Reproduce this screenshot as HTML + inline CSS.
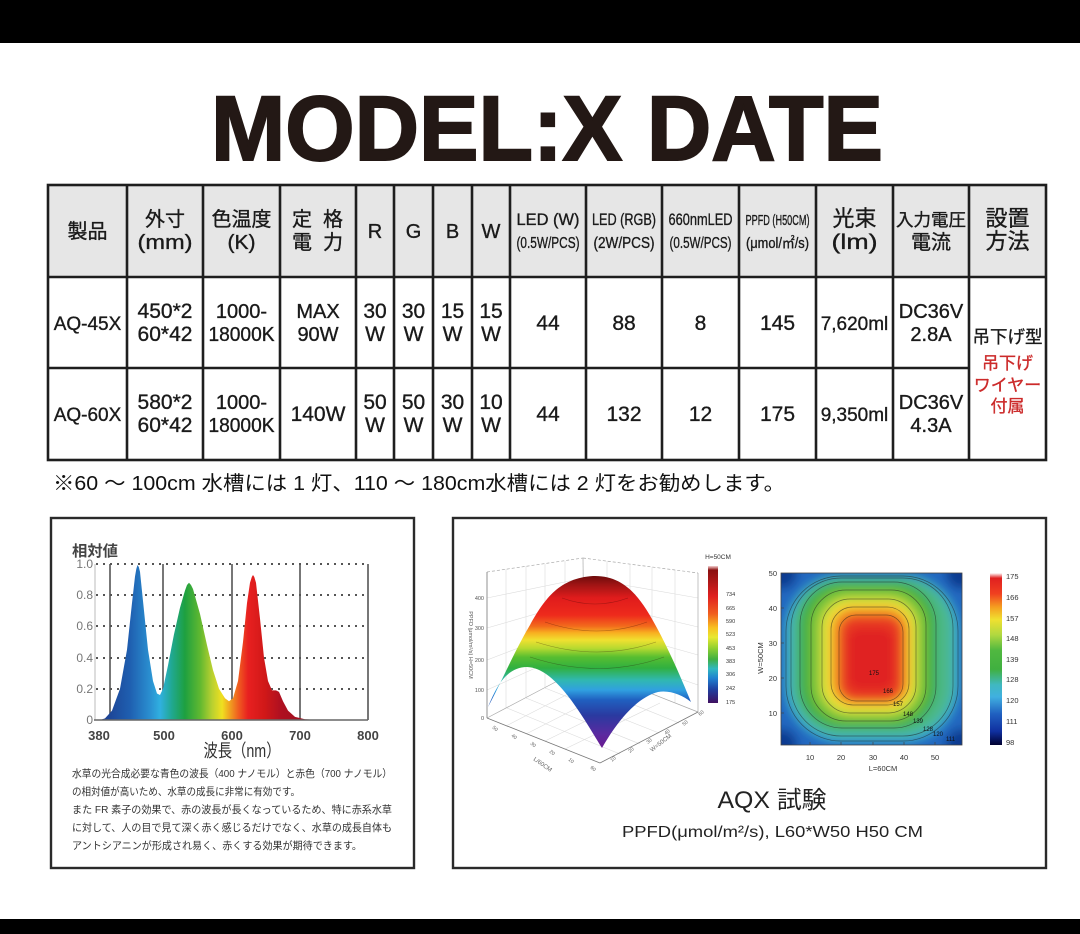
<!DOCTYPE html>
<html><head><meta charset="utf-8">
<style>
html,body{margin:0;padding:0;background:#fff;}
svg{display:block;}
text{font-family:"Liberation Sans","Noto Sans CJK JP",sans-serif;}
</style></head><body>
<svg width="1080" height="934" viewBox="0 0 1080 934" xmlns="http://www.w3.org/2000/svg">
<defs>
  <linearGradient id="spec" gradientUnits="userSpaceOnUse" x1="100" y1="0" x2="320" y2="0">
    <stop offset="0" stop-color="#1c3a8c"/>
    <stop offset="0.136" stop-color="#1f5fb0"/>
    <stop offset="0.227" stop-color="#2a8fd0"/>
    <stop offset="0.273" stop-color="#30b0e0"/>
    <stop offset="0.327" stop-color="#20a890"/>
    <stop offset="0.386" stop-color="#1ea040"/>
    <stop offset="0.455" stop-color="#60b830"/>
    <stop offset="0.509" stop-color="#b8d030"/>
    <stop offset="0.555" stop-color="#f0e020"/>
    <stop offset="0.591" stop-color="#f0a020"/>
    <stop offset="0.627" stop-color="#f06020"/>
    <stop offset="0.673" stop-color="#e82020"/>
    <stop offset="0.75" stop-color="#d01818"/>
    <stop offset="0.818" stop-color="#b01020"/>
    <stop offset="1" stop-color="#901020"/>
  </linearGradient>
  <linearGradient id="surf" gradientUnits="userSpaceOnUse" x1="0" y1="576" x2="0" y2="748">
    <stop offset="0" stop-color="#6e0c0c"/>
    <stop offset="0.052" stop-color="#a01414"/>
    <stop offset="0.128" stop-color="#e01c1c"/>
    <stop offset="0.227" stop-color="#ee2a1c"/>
    <stop offset="0.291" stop-color="#f26a1c"/>
    <stop offset="0.331" stop-color="#f8b020"/>
    <stop offset="0.372" stop-color="#f0e030"/>
    <stop offset="0.419" stop-color="#b8da30"/>
    <stop offset="0.471" stop-color="#58be30"/>
    <stop offset="0.535" stop-color="#30b040"/>
    <stop offset="0.605" stop-color="#30b8b0"/>
    <stop offset="0.663" stop-color="#30a0e0"/>
    <stop offset="0.72" stop-color="#2060c0"/>
    <stop offset="0.81" stop-color="#2a3aa0"/>
    <stop offset="0.92" stop-color="#5a2aa0"/>
    <stop offset="1" stop-color="#6a1a90"/>
  </linearGradient>
  <linearGradient id="cb1" x1="0" y1="0" x2="0" y2="1">
    <stop offset="0" stop-color="#f4d0d0"/>
    <stop offset="0.03" stop-color="#8b1010"/>
    <stop offset="0.12" stop-color="#b01818"/>
    <stop offset="0.22" stop-color="#e02020"/>
    <stop offset="0.35" stop-color="#f06020"/>
    <stop offset="0.45" stop-color="#f8c020"/>
    <stop offset="0.52" stop-color="#e8e830"/>
    <stop offset="0.6" stop-color="#90d030"/>
    <stop offset="0.68" stop-color="#40b040"/>
    <stop offset="0.75" stop-color="#30b8c0"/>
    <stop offset="0.82" stop-color="#2080d0"/>
    <stop offset="0.9" stop-color="#2040a0"/>
    <stop offset="1" stop-color="#401060"/>
  </linearGradient>
  <linearGradient id="cb2" x1="0" y1="0" x2="0" y2="1">
    <stop offset="0" stop-color="#ffffff"/>
    <stop offset="0.03" stop-color="#e02020"/>
    <stop offset="0.12" stop-color="#f04020"/>
    <stop offset="0.2" stop-color="#f5a020"/>
    <stop offset="0.27" stop-color="#f0e030"/>
    <stop offset="0.36" stop-color="#b0d840"/>
    <stop offset="0.45" stop-color="#50b840"/>
    <stop offset="0.56" stop-color="#40b040"/>
    <stop offset="0.65" stop-color="#40b8c0"/>
    <stop offset="0.72" stop-color="#40b0e0"/>
    <stop offset="0.82" stop-color="#2060c0"/>
    <stop offset="0.92" stop-color="#1030a0"/>
    <stop offset="1" stop-color="#000030"/>
  </linearGradient>
  <clipPath id="hmclip"><rect x="781" y="573" width="181" height="172"/></clipPath>
  <filter id="blur" x="-20%" y="-20%" width="140%" height="140%"><feGaussianBlur stdDeviation="5"/></filter>
</defs>

<rect width="1080" height="934" fill="#fff"/>
<rect x="0" y="0" width="1080" height="43" fill="#000"/>
<rect x="0" y="919" width="1080" height="15" fill="#000"/>

<!-- Title -->
<text x="211" y="160" font-size="92" font-weight="700" fill="#231815" stroke="#231815" stroke-width="2" textLength="672" lengthAdjust="spacingAndGlyphs">MODEL:X DATE</text>

<!-- Table -->
<rect x="48" y="185" width="998" height="92" fill="#e6e6e6"/>
<g stroke="#1e1e1e" stroke-width="2.6" fill="none">
  <rect x="48" y="185" width="998" height="275"/>
  <line x1="48" y1="277" x2="1046" y2="277"/>
  <line x1="48" y1="368" x2="969" y2="368"/>
  <line x1="127" y1="185" x2="127" y2="460"/>
  <line x1="203" y1="185" x2="203" y2="460"/>
  <line x1="280" y1="185" x2="280" y2="460"/>
  <line x1="356" y1="185" x2="356" y2="460"/>
  <line x1="394" y1="185" x2="394" y2="460"/>
  <line x1="433" y1="185" x2="433" y2="460"/>
  <line x1="472" y1="185" x2="472" y2="460"/>
  <line x1="510" y1="185" x2="510" y2="460"/>
  <line x1="586" y1="185" x2="586" y2="460"/>
  <line x1="662" y1="185" x2="662" y2="460"/>
  <line x1="739" y1="185" x2="739" y2="460"/>
  <line x1="816" y1="185" x2="816" y2="460"/>
  <line x1="893" y1="185" x2="893" y2="460"/>
  <line x1="969" y1="185" x2="969" y2="460"/>
</g>

<g fill="#1a1a1a" stroke="#1a1a1a" stroke-width="0.35" text-anchor="middle" font-size="20">
  <!-- header -->
  <text x="87.5" y="238">製品</text>
  <text x="165" y="226">外寸</text>
  <text x="165" y="249" textLength="55" lengthAdjust="spacingAndGlyphs">(mm)</text>
  <text x="241.5" y="226">色温度</text>
  <text x="241.5" y="249" textLength="28" lengthAdjust="spacingAndGlyphs">(K)</text>
  <text x="302" y="226">定</text><text x="333" y="226">格</text>
  <text x="302" y="249">電</text><text x="333" y="249">力</text>
  <text x="375" y="238">R</text>
  <text x="413.5" y="238">G</text>
  <text x="452.5" y="238">B</text>
  <text x="491" y="238">W</text>
  <text x="548" y="225" font-size="17" textLength="63" lengthAdjust="spacingAndGlyphs">LED (W)</text>
  <text x="548" y="248" font-size="16" textLength="63" lengthAdjust="spacingAndGlyphs">(0.5W/PCS)</text>
  <text x="624" y="225" font-size="17" textLength="64" lengthAdjust="spacingAndGlyphs">LED (RGB)</text>
  <text x="624" y="248" font-size="16" textLength="61" lengthAdjust="spacingAndGlyphs">(2W/PCS)</text>
  <text x="700.5" y="225" font-size="17" textLength="64" lengthAdjust="spacingAndGlyphs">660nmLED</text>
  <text x="700.5" y="248" font-size="16" textLength="62" lengthAdjust="spacingAndGlyphs">(0.5W/PCS)</text>
  <text x="777.5" y="225" font-size="15" textLength="64" lengthAdjust="spacingAndGlyphs">PPFD (H50CM)</text>
  <text x="777.5" y="248" font-size="15" textLength="63" lengthAdjust="spacingAndGlyphs">(μmol/㎡/s)</text>
  <text x="854.5" y="226" font-size="22">光束</text>
  <text x="854.5" y="249" font-size="21" textLength="46" lengthAdjust="spacingAndGlyphs">(lm)</text>
  <text x="931" y="226" font-size="17.5">入力電圧</text>
  <text x="931" y="249" font-size="20">電流</text>
  <text x="1007.5" y="226" font-size="22">設置</text>
  <text x="1007.5" y="249" font-size="22">方法</text>

  <!-- row 1 -->
  <text x="87.5" y="330" font-size="19">AQ-45X</text>
  <text x="165" y="318" font-size="21">450*2</text>
  <text x="165" y="341" font-size="21">60*42</text>
  <text x="241.5" y="318">1000-</text>
  <text x="241.5" y="341" textLength="66" lengthAdjust="spacingAndGlyphs">18000K</text>
  <text x="318" y="318">MAX</text>
  <text x="318" y="341">90W</text>
  <g font-size="21">
  <text x="375" y="318">30</text><text x="375" y="341">W</text>
  <text x="413.5" y="318">30</text><text x="413.5" y="341">W</text>
  <text x="452.5" y="318">15</text><text x="452.5" y="341">W</text>
  <text x="491" y="318">15</text><text x="491" y="341">W</text>
  <text x="548" y="330">44</text>
  <text x="624" y="330">88</text>
  <text x="700.5" y="330">8</text>
  <text x="777.5" y="330">145</text>
  </g>
  <text x="854.5" y="330" font-size="19">7,620ml</text>
  <text x="931" y="318">DC36V</text>
  <text x="931" y="341">2.8A</text>

  <!-- row 2 -->
  <text x="87.5" y="421" font-size="19">AQ-60X</text>
  <text x="165" y="409" font-size="21">580*2</text>
  <text x="165" y="432" font-size="21">60*42</text>
  <text x="241.5" y="409">1000-</text>
  <text x="241.5" y="432" textLength="66" lengthAdjust="spacingAndGlyphs">18000K</text>
  <text x="318" y="421" font-size="21">140W</text>
  <g font-size="21">
  <text x="375" y="409">50</text><text x="375" y="432">W</text>
  <text x="413.5" y="409">50</text><text x="413.5" y="432">W</text>
  <text x="452.5" y="409">30</text><text x="452.5" y="432">W</text>
  <text x="491" y="409">10</text><text x="491" y="432">W</text>
  <text x="548" y="421">44</text>
  <text x="624" y="421">132</text>
  <text x="700.5" y="421">12</text>
  <text x="777.5" y="421">175</text>
  </g>
  <text x="854.5" y="421" font-size="19">9,350ml</text>
  <text x="931" y="409">DC36V</text>
  <text x="931" y="432">4.3A</text>

  <!-- merged -->
  <text x="1007.5" y="343" font-size="17.5">吊下げ型</text>
  <g fill="#cc2b2b" stroke="#cc2b2b" font-size="17">
    <text x="1007.5" y="369">吊下げ</text>
    <text x="1007.5" y="391">ワイヤー</text>
    <text x="1007.5" y="412">付属</text>
  </g>
</g>

<!-- note -->
<text x="53" y="490" font-size="20" fill="#111" textLength="732" lengthAdjust="spacingAndGlyphs">※60 ～ 100cm 水槽には 1 灯、110 ～ 180cm水槽には 2 灯をお勧めします。</text>

<!-- Left box -->
<rect x="51" y="518" width="363" height="350" fill="#fff" stroke="#2a2a2a" stroke-width="2.4"/>
<text x="72" y="556" font-size="15" fill="#444" font-weight="700" textLength="46" lengthAdjust="spacingAndGlyphs">相対値</text>
<g stroke="#555" stroke-width="2" stroke-dasharray="2 5">
  <line x1="96" y1="564" x2="368" y2="564"/>
  <line x1="96" y1="595" x2="368" y2="595"/>
  <line x1="96" y1="626" x2="368" y2="626"/>
  <line x1="96" y1="658" x2="368" y2="658"/>
  <line x1="96" y1="689" x2="368" y2="689"/>
</g>
<line x1="95" y1="564" x2="95" y2="720" stroke="#bbb" stroke-width="1"/>
<g stroke="#555" stroke-width="1.6">
  <line x1="110" y1="564" x2="110" y2="720"/>
  <line x1="163" y1="564" x2="163" y2="720"/>
  <line x1="232" y1="564" x2="232" y2="720"/>
  <line x1="300" y1="564" x2="300" y2="720"/>
  <line x1="368" y1="564" x2="368" y2="720"/>
</g>
<polygon fill="url(#spec)" points="100,720 105,718.4 112,710.6 120,688.8 127,649.8 132,603 135,576.5 136.3,569 137.5,565 138.8,567 140,571.8 144,610.8 148,649.8 153,681 157,693.5 160,695 163,688.8 168,665.4 174,634.2 180,607.7 185,590.5 187,585 189,582.7 191,585 193,589 200,613.9 207,645.1 213,670.1 219,688.8 225,698.2 229,701.3 233,698.2 238,681 243,642 247,603 250,582.7 251.8,577 253,575 254.3,577 256,582.7 260,618.6 264,657.6 268,681 272,690.4 276,690.4 279,691.9 283,701.3 288,710.6 295,716.9 305,719.2 320,720"/>
<line x1="94" y1="720" x2="368" y2="720" stroke="#666" stroke-width="1.6"/>
<g font-size="12" fill="#777" text-anchor="end">
  <text x="93" y="568">1.0</text>
  <text x="93" y="599">0.8</text>
  <text x="93" y="630">0.6</text>
  <text x="93" y="662">0.4</text>
  <text x="93" y="693">0.2</text>
  <text x="93" y="724">0</text>
</g>
<g font-size="13" fill="#444" font-weight="700" text-anchor="middle">
  <text x="99" y="740">380</text>
  <text x="164" y="740">500</text>
  <text x="232" y="740">600</text>
  <text x="300" y="740">700</text>
  <text x="368" y="740">800</text>
</g>
<text x="242" y="757" font-size="18" fill="#333" text-anchor="middle" textLength="77" lengthAdjust="spacingAndGlyphs">波長（nm）</text>
<g font-size="10.5" fill="#333">
  <text x="72" y="777" textLength="320" lengthAdjust="spacingAndGlyphs">水草の光合成必要な青色の波長（400 ナノモル）と赤色（700 ナノモル）</text>
  <text x="72" y="795" textLength="228" lengthAdjust="spacingAndGlyphs">の相対値が高いため、水草の成長に非常に有効です。</text>
  <text x="72" y="813" textLength="320" lengthAdjust="spacingAndGlyphs">また FR 素子の効果で、赤の波長が長くなっているため、特に赤系水草</text>
  <text x="72" y="831" textLength="320" lengthAdjust="spacingAndGlyphs">に対して、人の目で見て深く赤く感じるだけでなく、水草の成長自体も</text>
  <text x="72" y="849" textLength="290" lengthAdjust="spacingAndGlyphs">アントシアニンが形成され易く、赤くする効果が期待できます。</text>
</g>

<!-- Right box -->
<rect x="453" y="518" width="593" height="350" fill="#fff" stroke="#2a2a2a" stroke-width="2.4"/>

<!-- 3D chart walls -->
<g stroke="#dcdcdc" stroke-width="0.6" fill="none">
  <line x1="506" y1="569" x2="506" y2="708"/>
  <line x1="526" y1="566" x2="526" y2="698"/>
  <line x1="545" y1="564" x2="545" y2="687"/>
  <line x1="565" y1="561" x2="565" y2="677"/>
  <line x1="487" y1="690" x2="584" y2="646"/>
  <line x1="487" y1="660" x2="584" y2="623"/>
  <line x1="487" y1="628" x2="584" y2="600"/>
  <line x1="487" y1="598" x2="584" y2="578"/>
  <line x1="607" y1="561" x2="607" y2="676"/>
  <line x1="630" y1="564" x2="630" y2="685"/>
  <line x1="652" y1="567" x2="652" y2="694"/>
  <line x1="675" y1="570" x2="675" y2="703"/>
  <line x1="584" y1="646" x2="698" y2="685"/>
  <line x1="584" y1="623" x2="698" y2="655"/>
  <line x1="584" y1="600" x2="698" y2="627"/>
  <line x1="584" y1="578" x2="698" y2="598"/>
  <line x1="506" y1="726" x2="603" y2="676"/>
  <line x1="526" y1="734" x2="622" y2="685"/>
  <line x1="545" y1="741" x2="641" y2="694"/>
  <line x1="565" y1="749" x2="660" y2="703"/>
  <line x1="507" y1="708" x2="620" y2="754"/>
  <line x1="526" y1="698" x2="640" y2="744"/>
  <line x1="545" y1="688" x2="659" y2="733"/>
  <line x1="565" y1="677" x2="679" y2="723"/>
</g>
<g stroke="#aaa" stroke-width="0.7" fill="none">
  <line x1="487" y1="572" x2="583" y2="558" stroke-dasharray="3 2"/>
  <line x1="583" y1="558" x2="698" y2="573" stroke-dasharray="3 2"/>
  <line x1="583" y1="558" x2="584" y2="667"/>
  <line x1="698" y1="573" x2="698" y2="712"/>
  <line x1="487" y1="718" x2="584" y2="667"/>
  <line x1="584" y1="667" x2="698" y2="712"/>
</g>
<g stroke="#777" stroke-width="0.8" fill="none">
  <line x1="487" y1="572" x2="487" y2="718"/>
  <line x1="487" y1="718" x2="600" y2="763"/>
  <line x1="600" y1="763" x2="698" y2="712"/>
</g>
<!-- surface -->
<path fill="url(#surf)" d="M488,707 C500,685 515,650 530,625 C545,598 560,578 593,576 C625,575 641,598 657,628 C670,652 682,680 691,702 C682,695 670,690 658,692 C635,698 615,725 602,748 C580,712 555,668 527,667 C505,667 495,690 488,707 Z"/>
<g stroke="rgba(40,0,0,0.35)" stroke-width="0.6" fill="none">
  <path d="M562,598 Q595,610 628,598"/>
  <path d="M545,622 Q597,640 647,622"/>
  <path d="M536,642 Q598,662 656,642"/>
  <path d="M530,657 Q600,680 664,657"/>
</g>
<g font-size="5.5" fill="#555" text-anchor="end">
  <text x="484" y="600">400</text>
  <text x="484" y="630">300</text>
  <text x="484" y="662">200</text>
  <text x="484" y="692">100</text>
  <text x="484" y="720">0</text>
</g>
<text transform="translate(469,645) rotate(90)" font-size="5.5" fill="#555" text-anchor="middle">PPFD (μmol/m²/s)  H=50CM</text>
<g font-size="5" fill="#666">
  <text transform="translate(492,728) rotate(40)">50</text>
  <text transform="translate(511,736) rotate(40)">40</text>
  <text transform="translate(530,744) rotate(40)">30</text>
  <text transform="translate(549,752) rotate(40)">20</text>
  <text transform="translate(568,760) rotate(40)">10</text>
  <text transform="translate(590,768) rotate(40)">60</text>
  <text transform="translate(612,762) rotate(-40)">10</text>
  <text transform="translate(630,753) rotate(-40)">20</text>
  <text transform="translate(648,744) rotate(-40)">30</text>
  <text transform="translate(666,735) rotate(-40)">40</text>
  <text transform="translate(684,726) rotate(-40)">50</text>
  <text transform="translate(700,716) rotate(-40)">60</text>
</g>
<text transform="translate(533,760) rotate(35)" font-size="6" fill="#666">L/60CM</text>
<text transform="translate(652,752) rotate(-38)" font-size="6" fill="#666">W=50CM</text>

<!-- colorbar 1 -->
<rect x="708" y="566" width="10" height="137" fill="url(#cb1)"/>
<text x="718" y="559" font-size="6.5" fill="#333" text-anchor="middle">H=50CM</text>
<g font-size="5.5" fill="#333">
  <text x="726" y="596">734</text>
  <text x="726" y="610">665</text>
  <text x="726" y="623">590</text>
  <text x="726" y="636">523</text>
  <text x="726" y="650">453</text>
  <text x="726" y="663">383</text>
  <text x="726" y="676">306</text>
  <text x="726" y="690">242</text>
  <text x="726" y="704">175</text>
</g>

<!-- heatmap -->
<g clip-path="url(#hmclip)">
  <g filter="url(#blur)">
    <rect x="765" y="555" width="215" height="210" fill="#2468c0"/>
    <circle cx="781" cy="573" r="16" fill="#103a90"/>
    <circle cx="962" cy="573" r="16" fill="#103a90"/>
    <circle cx="781" cy="745" r="16" fill="#103a90"/>
    <circle cx="962" cy="745" r="16" fill="#103a90"/>
    <rect x="786" y="576" width="172" height="165" rx="55" fill="#3cb6d6"/>
    <rect x="791" y="578" width="162" height="158" rx="50" fill="#4cb88a"/>
    <rect x="800" y="582" width="136" height="146" rx="42" fill="#42ae3e"/>
    <rect x="811" y="590" width="115" height="131" rx="35" fill="#86c83a"/>
    <rect x="822" y="599" width="94" height="114" rx="28" fill="#ece63a"/>
    <rect x="831" y="607" width="78" height="98" rx="22" fill="#f59a22"/>
    <rect x="839" y="615" width="64" height="86" rx="17" fill="#e83a20"/>
    <rect x="848" y="628" width="46" height="62" rx="12" fill="#e02420"/>
  </g>
  <g fill="none" stroke="rgba(30,30,30,0.55)" stroke-width="0.7">
    <rect x="786" y="576" width="172" height="165" rx="55"/>
    <rect x="791" y="578" width="162" height="158" rx="50"/>
    <rect x="800" y="582" width="136" height="146" rx="42"/>
    <rect x="811" y="590" width="115" height="131" rx="35"/>
    <rect x="822" y="599" width="94" height="114" rx="28"/>
    <rect x="831" y="607" width="78" height="98" rx="22"/>
    <rect x="839" y="615" width="64" height="86" rx="17"/>
  </g>
</g>
<rect x="781" y="573" width="181" height="172" fill="none" stroke="#444" stroke-width="0.8"/>
<g font-size="6" fill="#111">
  <text x="869" y="675">175</text>
  <text x="883" y="693">166</text>
  <text x="893" y="706">157</text>
  <text x="903" y="716">148</text>
  <text x="913" y="723">139</text>
  <text x="923" y="731">128</text>
  <text x="933" y="736">120</text>
  <text x="946" y="741">111</text>
</g>
<g stroke="#444" stroke-width="0.7">
  <line x1="781" y1="608" x2="784" y2="608"/>
  <line x1="781" y1="643" x2="784" y2="643"/>
  <line x1="781" y1="678" x2="784" y2="678"/>
  <line x1="781" y1="713" x2="784" y2="713"/>
  <line x1="810" y1="745" x2="810" y2="742"/>
  <line x1="841" y1="745" x2="841" y2="742"/>
  <line x1="873" y1="745" x2="873" y2="742"/>
  <line x1="904" y1="745" x2="904" y2="742"/>
  <line x1="935" y1="745" x2="935" y2="742"/>
</g>
<g font-size="7.5" fill="#333" text-anchor="end">
  <text x="777" y="576">50</text>
  <text x="777" y="611">40</text>
  <text x="777" y="646">30</text>
  <text x="777" y="681">20</text>
  <text x="777" y="716">10</text>
</g>
<g font-size="7.5" fill="#333" text-anchor="middle">
  <text x="810" y="760">10</text>
  <text x="841" y="760">20</text>
  <text x="873" y="760">30</text>
  <text x="904" y="760">40</text>
  <text x="935" y="760">50</text>
  <text x="883" y="771">L=60CM</text>
</g>
<text transform="translate(763,658) rotate(-90)" font-size="7.5" fill="#333" text-anchor="middle">W=50CM</text>

<!-- colorbar 2 -->
<rect x="990" y="573" width="12" height="172" fill="url(#cb2)"/>
<g font-size="7.5" fill="#333">
  <text x="1006" y="579">175</text>
  <text x="1006" y="600">166</text>
  <text x="1006" y="621">157</text>
  <text x="1006" y="641">148</text>
  <text x="1006" y="662">139</text>
  <text x="1006" y="682">128</text>
  <text x="1006" y="703">120</text>
  <text x="1006" y="724">111</text>
  <text x="1006" y="745">98</text>
</g>

<!-- caption -->
<text x="772" y="808" font-size="24" fill="#222" text-anchor="middle" textLength="109" lengthAdjust="spacingAndGlyphs">AQX 試験</text>
<text x="772.5" y="837" font-size="16" fill="#222" text-anchor="middle" textLength="301" lengthAdjust="spacingAndGlyphs">PPFD(μmol/m²/s), L60*W50 H50 CM</text>
</svg>
</body></html>
